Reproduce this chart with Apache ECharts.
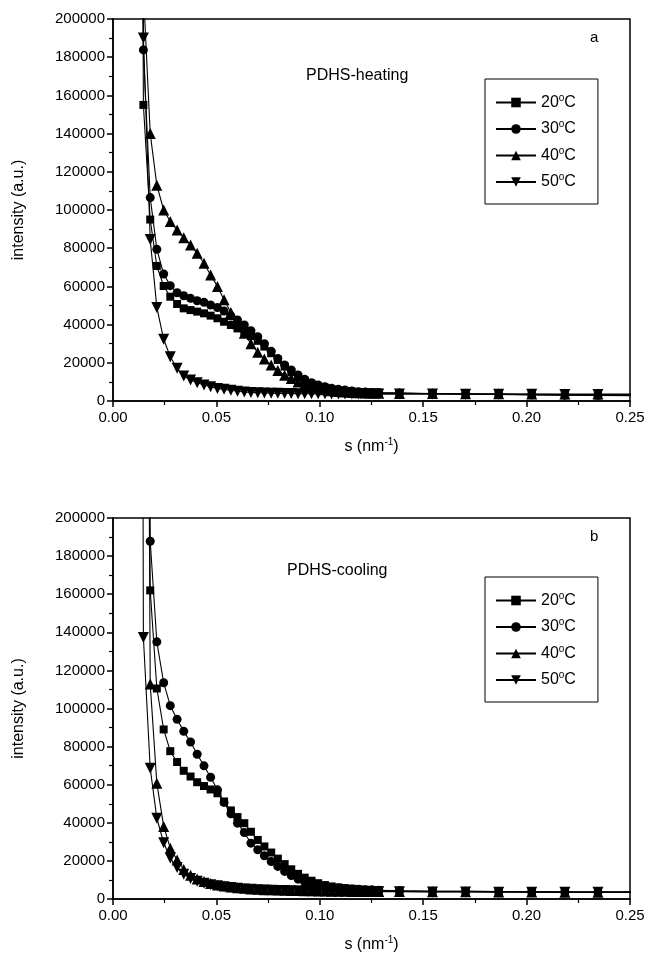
<!DOCTYPE html>
<html>
<head>
<meta charset="utf-8">
<script src="https://cdn.jsdelivr.net/npm/echarts@6/dist/echarts.min.js"></script>
<style>
html,body{margin:0;padding:0;background:#fff;}
#chart{width:648px;height:961px;}
</style>
</head>
<body>
<div id="chart"></div>
<script>
// s values (nm^-1), shared by all series
const sValues = [0.0115,
  0.0147, 0.0180, 0.0212, 0.0245, 0.0277, 0.0310, 0.0342, 0.0375, 0.0407, 0.0440,
  0.0472, 0.0505, 0.0537, 0.0570, 0.0602, 0.0635, 0.0667, 0.0700, 0.0732, 0.0765,
  0.0797, 0.0830, 0.0862, 0.0895, 0.0927, 0.0960, 0.0992, 0.1025, 0.1057, 0.1090,
  0.1122, 0.1155, 0.1187, 0.1220, 0.1252, 0.1285,
  0.1385, 0.1545, 0.1705, 0.1865, 0.2025, 0.2185, 0.2345, 0.2505];

const seriesNames = ['20°C', '30°C', '40°C', '50°C'];
const seriesSymbols = ['rect', 'circle', 'triangle', 'path://M0,0 L10,0 L5,9 Z'];

// (a) PDHS-heating
const heat20 = [900000,
  155000, 95000, 70700, 60200, 54600, 50800, 48500, 47600, 46800, 45900,
  44700, 43300, 41500, 39800, 38000, 36000, 34000, 31500, 28500, 25000,
  21500, 18000, 15200, 12600, 10600, 9000, 7800, 6900, 6200, 5700,
  5300, 5000, 4700, 4500, 4400, 4300,
  4100, 3800, 3600, 3400, 3200, 3000, 2900, 2800];
const heat30 = [900000,
  183800, 106500, 79400, 66500, 60400, 56700, 55100, 53750, 52500, 51650,
  50250, 48900, 47100, 44500, 42400, 39800, 36800, 33700, 30000, 26000,
  22300, 18850, 16240, 13600, 11350, 9600, 8400, 7500, 6700, 6100,
  5700, 5300, 4900, 4700, 4500, 4400,
  4200, 3900, 3700, 3500, 3300, 3100, 3000, 2900];
const heat40 = [1000000,
  215000, 140000, 113000, 100000, 94000, 89500, 85500, 81700, 77300, 72100,
  66000, 60000, 53000, 46300, 40500, 35500, 30000, 25500, 22000, 18800,
  16000, 13500, 11800, 10000, 8700, 7500, 6600, 5900, 5400, 5000,
  4700, 4500, 4300, 4200, 4100, 4000,
  3900, 3900, 3800, 3800, 3700, 3700, 3600, 3600];
const heat50 = [1200000,
  190000, 84500, 49000, 32300, 23200, 17100, 13100, 11000, 9600, 8400,
  7500, 6600, 6100, 5600, 5100, 4700, 4500, 4300, 4200, 4100,
  4000, 3950, 3900, 3850, 3800, 3800, 3750, 3750, 3700, 3700,
  3700, 3650, 3650, 3650, 3600, 3600,
  3600, 3600, 3500, 3500, 3500, 3400, 3400, 3400];

// (b) PDHS-cooling
const cool20 = [2000000,
  600000, 162000, 110500, 89000, 77600, 71900, 67300, 64300, 61300, 59300,
  57500, 55500, 51200, 46500, 43000, 39800, 35300, 31000, 27600, 24400,
  21200, 18300, 15600, 13200, 11200, 9600, 8300, 7300, 6600, 6100,
  5700, 5400, 5100, 4900, 4700, 4600,
  4300, 4100, 4000, 3900, 3800, 3700, 3700, 3600];
const cool30 = [3000000,
  700000, 187800, 135000, 113500, 101500, 94300, 88000, 82400, 76000, 69900,
  63900, 57300, 50700, 44700, 39800, 34900, 29300, 25800, 22700, 19700,
  17100, 14500, 12300, 10400, 8900, 7900, 7100, 6500, 6100, 5800,
  5500, 5300, 5100, 4900, 4800, 4600,
  4300, 4100, 4000, 3900, 3800, 3700, 3600, 3600];
const cool40 = [3000000,
  800000, 112800, 60800, 38100, 26700, 20500, 15500, 12500, 10500, 9200,
  8200, 7400, 6800, 6300, 5900, 5600, 5300, 5100, 4900, 4800,
  4700, 4600, 4500, 4400, 4300, 4300, 4200, 4200, 4100, 4100,
  4100, 4000, 4000, 4000, 4000, 3900,
  3900, 3800, 3800, 3700, 3700, 3600, 3600, 3600];
const cool50 = [1500000,
  137300, 68600, 42400, 29500, 21500, 16500, 13000, 10800, 9300, 8300,
  7500, 6900, 6400, 6000, 5600, 5300, 5100, 4900, 4700, 4600,
  4500, 4400, 4300, 4200, 4200, 4100, 4100, 4000, 4000, 4000,
  3900, 3900, 3900, 3900, 3800, 3800,
  3800, 3700, 3700, 3600, 3600, 3500, 3500, 3500];

const heatData = [heat20, heat30, heat40, heat50];
const coolData = [cool20, cool30, cool40, cool50];

const FONT = '"Liberation Sans", Arial, sans-serif';
const symbolSizes = [8, 9, 11, 11];

function pairs(vals) { return sValues.map((s, i) => [s, vals[i]]); }

function makeSeries(dataSet, gridIdx) {
  return dataSet.map((vals, i) => ({
    name: seriesNames[i],
    type: 'line',
    xAxisIndex: gridIdx,
    yAxisIndex: gridIdx,
    data: pairs(vals),
    symbol: seriesSymbols[i],
    symbolSize: symbolSizes[i],
    showAllSymbol: true,
    clip: true,
    itemStyle: { color: '#000' },
    lineStyle: { color: '#000', width: 1.1 },
    emphasis: { disabled: true },
    animation: false
  }));
}

function xAxis(gridIdx) {
  return {
    type: 'value', gridIndex: gridIdx, min: 0, max: 0.25, interval: 0.05,
    name: 's (nm{sup|-1})', nameLocation: 'middle', nameGap: 36,
    nameTextStyle: { color: '#000', fontSize: 16, fontFamily: FONT,
      rich: { sup: { fontSize: 10, fontFamily: FONT, color: '#000', padding: [0, 0, 9, 0] } } },
    axisLine: { show: true, onZero: false, lineStyle: { color: '#000', width: 1.5 } },
    axisTick: { show: true, inside: false, length: 6, lineStyle: { color: '#000', width: 1.5 } },
    minorTick: { show: true, splitNumber: 2, length: 4, lineStyle: { color: '#000', width: 1.2 } },
    axisLabel: { color: '#000', fontSize: 15, fontFamily: FONT, margin: 9,
      formatter: v => v.toFixed(2) },
    splitLine: { show: false }
  };
}
function yAxis(gridIdx) {
  return {
    type: 'value', gridIndex: gridIdx, min: 0, max: 200000, interval: 20000,
    name: 'intensity (a.u.)', nameLocation: 'middle', nameGap: 86, nameRotate: 90,
    nameTextStyle: { color: '#000', fontSize: 16, fontFamily: FONT },
    axisLine: { show: true, onZero: false, lineStyle: { color: '#000', width: 1.5 } },
    axisTick: { show: true, inside: false, length: 6, lineStyle: { color: '#000', width: 1.5 } },
    minorTick: { show: true, splitNumber: 2, length: 4, lineStyle: { color: '#000', width: 1.2 } },
    axisLabel: { color: '#000', fontSize: 15, fontFamily: FONT, margin: 8,
      formatter: v => String(v) },
    splitLine: { show: false }
  };
}
function legend(top) {
  return {
    orient: 'vertical', left: 485, top: top,
    data: seriesNames,
    itemWidth: 40, itemHeight: 12, itemGap: 9,
    borderColor: '#000', borderWidth: 1, padding: [14, 22, 14, 10],
    selectedMode: false,
    formatter: n => n.replace('°', '{sup|o}'),
    textStyle: { color: '#000', fontSize: 16, fontFamily: FONT,
      rich: { sup: { fontSize: 10, fontFamily: FONT, color: '#000', padding: [0, 0, 9, 0] } } }
  };
}

const chart = echarts.init(document.getElementById('chart'), null, { renderer: 'canvas' });
chart.setOption({
  backgroundColor: '#fff',
  animation: false,
  grid: [
    { left: 113, top: 19, width: 517, height: 382, show: true, borderColor: '#000', borderWidth: 1.5, backgroundColor: 'transparent' },
    { left: 113, top: 518, width: 517, height: 381, show: true, borderColor: '#000', borderWidth: 1.5, backgroundColor: 'transparent' }
  ],
  xAxis: [xAxis(0), xAxis(1)],
  yAxis: [yAxis(0), yAxis(1)],
  legend: [legend(79), legend(577)],
  graphic: [
    { type: 'text', left: 590, top: 30, style: { text: 'a', fill: '#000', font: '15px ' + FONT } },
    { type: 'text', left: 590, top: 529, style: { text: 'b', fill: '#000', font: '15px ' + FONT } },
    { type: 'text', left: 306, top: 68, style: { text: 'PDHS-heating', fill: '#000', font: '16px ' + FONT } },
    { type: 'text', left: 287, top: 563, style: { text: 'PDHS-cooling', fill: '#000', font: '16px ' + FONT } }
  ],
  series: [...makeSeries(heatData, 0), ...makeSeries(coolData, 1)]
});
</script>
</body>
</html>
